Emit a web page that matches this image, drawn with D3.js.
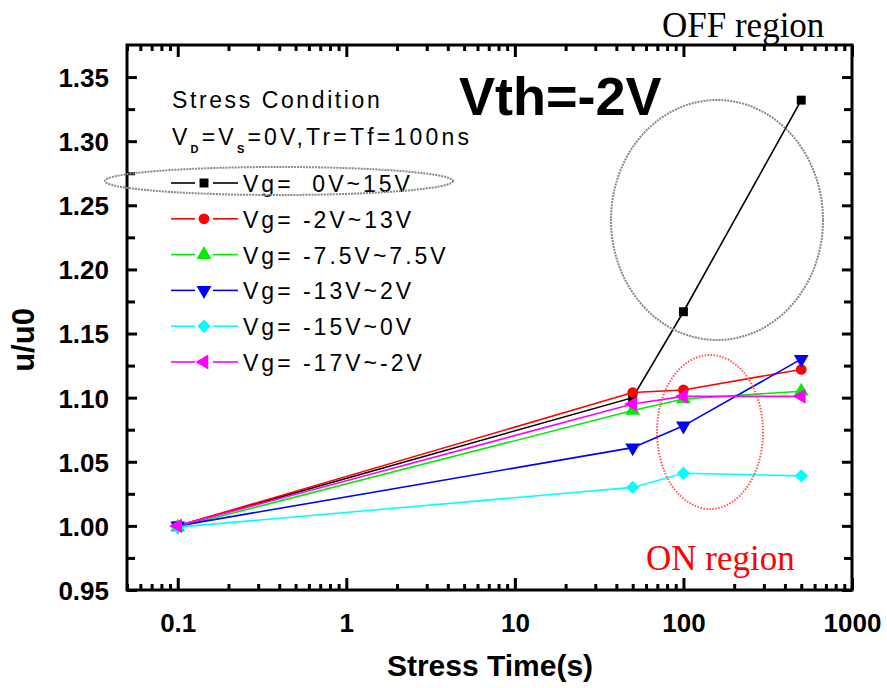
<!DOCTYPE html>
<html>
<head>
<meta charset="utf-8">
<script src="https://cdnjs.cloudflare.com/ajax/libs/d3/7.8.5/d3.min.js"></script>
<style>
  body { margin: 0; background: #fff; }
  svg { display: block; }
</style>
</head>
<body>
<svg id="canvas" width="887" height="688"></svg>
<script>
// stress times (s)
const times = [0.1, 50, 100, 500];

// u/u0 for each stress condition
const vg0to15 = [1.000, 1.100, 1.167, 1.332];
const vgm2to13 = [1.000, 1.104, 1.106, 1.122];
const vgm75to75 = [0.999, 1.090, 1.099, 1.105];
const vgm13to2 = [1.000, 1.061, 1.078, 1.130];
const vgm15to0 = [0.999, 1.030, 1.041, 1.039];
const vgm17tom2 = [1.000, 1.095, 1.101, 1.101];

const seriesNames = ["Vg=  0V~15V", "Vg= -2V~13V", "Vg= -7.5V~7.5V", "Vg= -13V~2V", "Vg= -15V~0V", "Vg= -17V~-2V"];
const seriesColors = ["#000000", "#ff0000", "#00ee00", "#0000ff", "#00ffff", "#ff00ff"];

const xTickLabels = [0.1, 1, 10, 100, 1000];
const yTickLabels = [0.95, 1.00, 1.05, 1.10, 1.15, 1.20, 1.25, 1.30, 1.35];

const LEFT = 127, RIGHT = 852, TOP = 45, BOTTOM = 590;

const svg = d3.select("#canvas");

const scaleX = d3.scaleLog()
    .domain([0.05, 1000])
    .range([LEFT, RIGHT]);

const scaleY = d3.scaleLinear()
    .domain([0.95, 1.375])
    .range([BOTTOM, TOP]);

const allSeries = [vg0to15, vgm2to13, vgm75to75, vgm13to2, vgm15to0, vgm17tom2];

// marker shapes, one per series
const symbols = [
    { type: d3.symbolSquare, size: 80, rotate: 0 },
    { type: d3.symbolCircle, size: 90, rotate: 0 },
    { type: d3.symbolTriangle, size: 95, rotate: 0 },
    { type: d3.symbolTriangle, size: 95, rotate: 180 },
    { type: d3.symbolSquare, size: 90, rotate: 45 },
    { type: d3.symbolTriangle, size: 95, rotate: -90 }
];

const tickFont = "'Liberation Sans', Arial, sans-serif";

// ---- axes ----
const minorX = scaleX.ticks().filter(v => !xTickLabels.includes(v));
const minorY = d3.range(0.975, 1.375, 0.05);

function styleAxis(g) {
    g.select(".domain").remove();
    g.selectAll(".tick line").attr("stroke", "#000").attr("stroke-width", 3);
    g.selectAll(".tick text")
        .attr("fill", "#000")
        .attr("dy", null)
        .style("font-family", tickFont)
        .style("font-weight", "bold")
        .style("font-size", "26px");
}

svg.append("g").attr("transform", `translate(0,${BOTTOM})`)
    .call(d3.axisBottom(scaleX).tickValues(minorX).tickSize(-6).tickFormat(""))
    .call(styleAxis);
svg.append("g").attr("transform", `translate(0,${BOTTOM})`)
    .call(d3.axisBottom(scaleX).tickValues(xTickLabels).tickSize(-12).tickPadding(42).tickFormat(d3.format("~g")))
    .call(styleAxis);
svg.append("g").attr("transform", `translate(0,${TOP})`)
    .call(d3.axisTop(scaleX).tickValues(minorX).tickSize(-6).tickFormat(""))
    .call(styleAxis);
svg.append("g").attr("transform", `translate(0,${TOP})`)
    .call(d3.axisTop(scaleX).tickValues(xTickLabels).tickSize(-12).tickFormat(""))
    .call(styleAxis);
svg.append("g").attr("transform", `translate(${LEFT},0)`)
    .call(d3.axisLeft(scaleY).tickValues(minorY).tickSize(-8).tickFormat(""))
    .call(styleAxis);
svg.append("g").attr("transform", `translate(${LEFT},0)`)
    .call(d3.axisLeft(scaleY).tickValues(yTickLabels).tickSize(-10).tickPadding(18).tickFormat(d3.format(".2f")))
    .call(styleAxis)
    .selectAll(".tick text").attr("dy", "0.36em");
svg.append("g").attr("transform", `translate(${RIGHT},0)`)
    .call(d3.axisRight(scaleY).tickValues(minorY).tickSize(-8).tickFormat(""))
    .call(styleAxis);
svg.append("g").attr("transform", `translate(${RIGHT},0)`)
    .call(d3.axisRight(scaleY).tickValues(yTickLabels).tickSize(-10).tickFormat(""))
    .call(styleAxis);

// frame
svg.append("rect")
    .attr("x", LEFT)
    .attr("y", TOP)
    .attr("width", RIGHT - LEFT)
    .attr("height", BOTTOM - TOP)
    .attr("fill", "none")
    .attr("stroke", "#000")
    .attr("stroke-width", 3);

// axis titles
svg.append("text")
    .attr("x", 490)
    .attr("y", 676)
    .attr("text-anchor", "middle")
    .style("font-family", tickFont)
    .style("font-weight", "bold")
    .style("font-size", "30px")
    .text("Stress Time(s)");

svg.append("text")
    .attr("transform", "translate(34,340) rotate(-90)")
    .attr("text-anchor", "middle")
    .style("font-family", tickFont)
    .style("font-weight", "bold")
    .style("font-size", "31px")
    .text("u/u0");

// ---- data ----
const line = d3.line()
    .x((d, i) => scaleX(times[i]))
    .y(d => scaleY(d));

const plot = svg.append("g");

allSeries.forEach((series, k) => {
    plot.append("path")
        .datum(series)
        .attr("d", line)
        .attr("fill", "none")
        .attr("stroke", seriesColors[k])
        .attr("stroke-width", 1.6);
});

allSeries.forEach((series, k) => {
    const sym = symbols[k];
    plot.selectAll(".m" + k)
        .data(series)
        .enter()
        .append("path")
        .attr("class", "m" + k)
        .attr("d", d3.symbol(sym.type, sym.size))
        .attr("transform", (d, i) => `translate(${scaleX(times[i])},${scaleY(d)}) rotate(${sym.rotate})`)
        .attr("fill", seriesColors[k]);
});

// ---- legend ----
const legendFont = "'Liberation Sans', Arial, sans-serif";

svg.append("text")
    .attr("x", 172)
    .attr("y", 108)
    .style("font-family", legendFont)
    .style("font-size", "23px")
    .style("letter-spacing", "2.6px")
    .text("Stress Condition");

const cond = svg.append("text")
    .attr("x", 172)
    .attr("y", 145)
    .style("font-family", legendFont)
    .style("font-size", "23px")
    .style("letter-spacing", "3.2px");
cond.append("tspan").text("V");
cond.append("tspan").attr("dy", 8).style("font-size", "11px").style("font-weight", "bold").text("D");
cond.append("tspan").attr("dy", -8).text("=V");
cond.append("tspan").attr("dy", 8).style("font-size", "11px").style("font-weight", "bold").text("S");
cond.append("tspan").attr("dy", -8).text("=0V,Tr=Tf=100ns");

const legendRows = svg.selectAll(".legend-row")
    .data(seriesNames)
    .enter()
    .append("g")
    .attr("class", "legend-row")
    .attr("transform", (d, i) => `translate(0,${183 + i * 35.8})`);

legendRows.append("line")
    .attr("x1", 171).attr("x2", 195).attr("y1", 0).attr("y2", 0)
    .attr("stroke", (d, i) => seriesColors[i]).attr("stroke-width", 1.6);

legendRows.append("line")
    .attr("x1", 213).attr("x2", 238).attr("y1", 0).attr("y2", 0)
    .attr("stroke", (d, i) => seriesColors[i]).attr("stroke-width", 1.6);

legendRows.append("path")
    .attr("d", (d, i) => d3.symbol(symbols[i].type, symbols[i].size)())
    .attr("transform", (d, i) => `translate(204,0) rotate(${symbols[i].rotate})`)
    .attr("fill", (d, i) => seriesColors[i]);

legendRows.append("text")
    .attr("x", 243)
    .attr("y", 9)
    .style("font-family", legendFont)
    .style("font-size", "23px")
    .style("letter-spacing", "3px")
    .style("white-space", "pre")
    .text(d => d);

// ---- annotations ----
svg.append("text")
    .attr("x", 459)
    .attr("y", 115)
    .style("font-family", tickFont)
    .style("font-weight", "bold")
    .style("font-size", "54px")
    .text("Vth=-2V");

svg.append("text")
    .attr("x", 662)
    .attr("y", 37)
    .style("font-family", "'Liberation Serif', 'Times New Roman', serif")
    .style("font-size", "35px")
    .text("OFF region");

svg.append("text")
    .attr("x", 646)
    .attr("y", 570)
    .attr("fill", "#ff0000")
    .style("font-family", "'Liberation Serif', 'Times New Roman', serif")
    .style("font-size", "35px")
    .text("ON region");

// highlight ellipses
svg.append("ellipse")
    .attr("cx", 279).attr("cy", 181).attr("rx", 174).attr("ry", 14)
    .attr("fill", "none").attr("stroke", "#888").attr("stroke-width", 2)
    .attr("stroke-dasharray", "2,1");

svg.append("ellipse")
    .attr("cx", 717).attr("cy", 220).attr("rx", 106).attr("ry", 120)
    .attr("fill", "none").attr("stroke", "#888").attr("stroke-width", 2)
    .attr("stroke-dasharray", "2,1");

svg.append("ellipse")
    .attr("cx", 710).attr("cy", 432).attr("rx", 53).attr("ry", 77)
    .attr("fill", "none").attr("stroke", "#ff5555").attr("stroke-width", 2)
    .attr("stroke-dasharray", "1.5,1.5");
</script>
</body>
</html>
